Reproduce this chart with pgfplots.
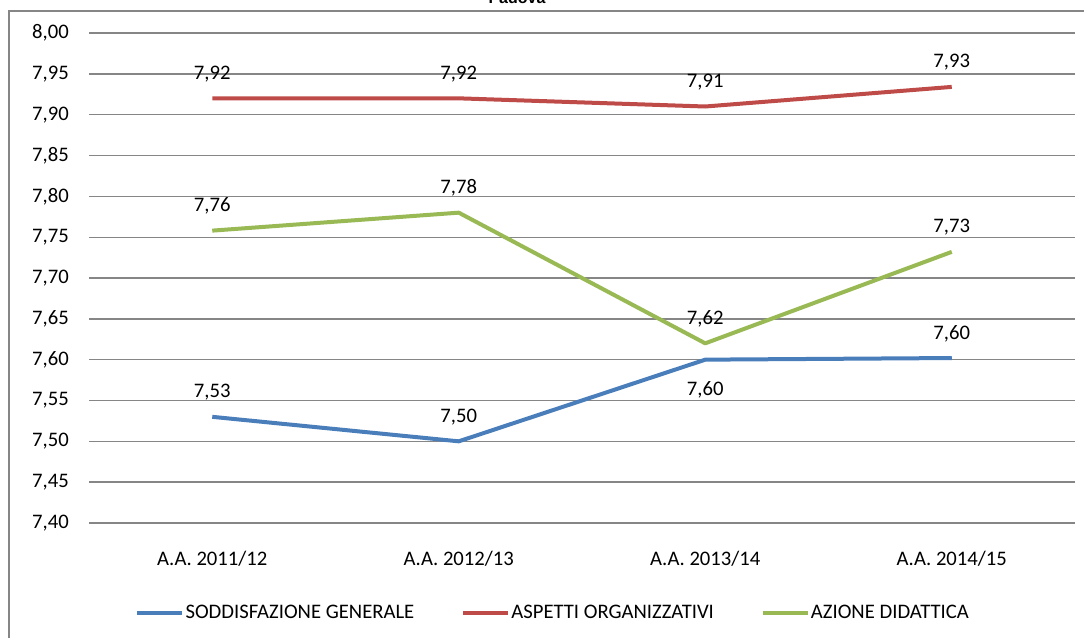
\documentclass[border=0pt]{standalone}
\usepackage{pgfplots}
\pgfplotsset{compat=1.18}
\usepackage{pgfplotstable}
\usepackage{fontspec}
\setmainfont{Carlito}
\newfontfamily\arialfont{Liberation Sans}
\definecolor{cblue}{HTML}{4A7EBB}
\definecolor{cred}{HTML}{BE4B48}
\definecolor{cgreen}{HTML}{98B954}
\definecolor{cgrid}{HTML}{868686}
\pgfkeys{/pgf/number format/.cd, fixed, fixed zerofill, precision=2, use comma, assume math mode=true}
\pgfplotstableread{
x y dy
0 7.53 18.5
1 7.50 18.5
2 7.60 -22.5
3 7.602 18.5
}\soddisf
\pgfplotstableread{
x y dy
0 7.92 18.5
1 7.92 18.5
2 7.91 18.0
3 7.934 18.5
}\aspetti
\pgfplotstableread{
x y dy
0 7.758 18.5
1 7.78 18.5
2 7.62 18.0
3 7.732 18.5
}\azione
\begin{document}
\begin{tikzpicture}
\useasboundingbox (0,0) rectangle (813pt,478.5pt);
\draw[line width=1.5pt, color=cgrid] (6.75pt,-20pt) -- (6.75pt,470.25pt) -- (830pt,470.25pt);
\node[font=\arialfont\bfseries\fontsize{12}{14}\selectfont, anchor=base, inner sep=0pt] at (387.75pt,475.5pt) {Padova};
\begin{axis}[
  at={(66.75pt,86.25pt)}, anchor=south west,
  scale only axis, width=739.5pt, height=367.5pt,
  xmin=-0.5, xmax=3.5, ymin=7.4, ymax=8.0,
  xtick={0,1,2,3},
  xticklabels={A.A. 2011/12, A.A. 2012/13, A.A. 2013/14, A.A. 2014/15},
  ytick={7.4,7.45,7.5,7.55,7.6,7.65,7.7,7.75,7.8,7.85,7.9,7.95,8.0},
  ymajorgrids,
  major grid style={color=cgrid, line width=1pt},
  axis line style={draw=none},
  tick style={draw=none},
  ticklabel style={font=\fontsize{15.5}{18}\selectfont},
  yticklabel style={anchor=east, inner sep=0pt, xshift=-15pt},
  xticklabel style={anchor=center, inner sep=0pt, yshift=-26.5pt},
  clip=false,
  nodes near coords,
  visualization depends on={\thisrow{dy} \as \dy},
  every node near coord/.append style={anchor=center, yshift=\dy pt, font=\fontsize{15.5}{18}\selectfont, text=black},
  legend style={at={(0.4703,-0.1837)}, anchor=center, draw=none, fill=none,
    legend columns=3, font=\fontsize{15.5}{18}\selectfont,
    /tikz/every even column/.append style={column sep=34pt},
    nodes={inner sep=1pt}, cells={anchor=west}},
  legend image code/.code={\draw[#1, line width=3pt] (0pt,0pt) -- (33.75pt,0pt);},
]
\addplot[color=cblue, line width=3pt, line join=round, mark=none] table[x=x,y=y] {\soddisf};
\addlegendentry{SODDISFAZIONE GENERALE}
\addplot[color=cred, line width=3pt, line join=round, mark=none] table[x=x,y=y] {\aspetti};
\addlegendentry{ASPETTI ORGANIZZATIVI}
\addplot[color=cgreen, line width=3pt, line join=round, mark=none] table[x=x,y=y] {\azione};
\addlegendentry{AZIONE DIDATTICA}
\end{axis}
\end{tikzpicture}
\end{document}
